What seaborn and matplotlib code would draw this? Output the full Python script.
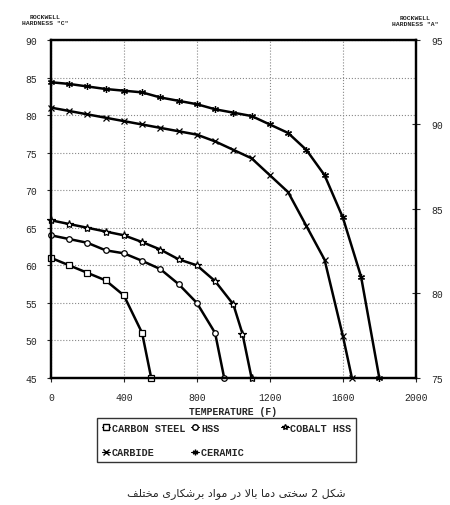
import seaborn as sns
import matplotlib.pyplot as plt
from matplotlib.lines import Line2D

# values
temp_carbon = [0, 100, 200, 300, 400, 500, 550]
hrc_carbon = [61, 60, 59, 58, 56, 51, 45]

temp_hss = [0, 100, 200, 300, 400, 500, 600, 700, 800, 900, 950]
hrc_hss = [64, 63.5, 63, 62, 61.6, 60.6, 59.5, 57.5, 55, 51, 45]

temp_cobalt = [0, 100, 200, 300, 400, 500, 600, 700, 800, 900, 1000, 1050, 1100]
hrc_cobalt = [66, 65.5, 65, 64.5, 64, 63.1, 62.1, 60.8, 60, 57.9, 54.8, 50.9, 45]

temp_carbide = [0, 100, 200, 300, 400, 500, 600, 700, 800, 900, 1000, 1100,
                1200, 1300, 1400, 1500, 1600, 1650]
hra_carbide = [91.0, 90.8, 90.6, 90.4, 90.2, 90.0, 89.8, 89.6, 89.4, 89.0, 88.5,
               88.0, 87.0, 86.0, 84.0, 82.0, 77.5, 75]

temp_ceramic = [0, 100, 200, 300, 400, 500, 600, 700, 800, 900, 1000, 1100,
                1200, 1300, 1400, 1500, 1600, 1700, 1800]
hra_ceramic = [92.5, 92.4, 92.25, 92.1, 92.0, 91.9, 91.6, 91.4, 91.2, 90.9, 90.7,
               90.5, 90.0, 89.5, 88.5, 87.0, 84.5, 81.0, 75]

x_ticks = [0, 400, 800, 1200, 1600, 2000]
c_ticks = [45, 50, 55, 60, 65, 70, 75, 80, 85, 90]
a_ticks = [75, 80, 85, 90, 95]

caption = "شکل 2 سختی دما بالا در مواد برشکاری مختلف"

# matplotlib has no arabic shaping, so pick presentation forms by hand
FORMS = {
    'ا': ('\uFE8D', '\uFE8E', None, None),
    'ب': ('\uFE8F', '\uFE90', '\uFE91', '\uFE92'),
    'ت': ('\uFE95', '\uFE96', '\uFE97', '\uFE98'),
    'خ': ('\uFEA5', '\uFEA6', '\uFEA7', '\uFEA8'),
    'د': ('\uFEA9', '\uFEAA', None, None),
    'ر': ('\uFEAD', '\uFEAE', None, None),
    'س': ('\uFEB1', '\uFEB2', '\uFEB3', '\uFEB4'),
    'ش': ('\uFEB5', '\uFEB6', '\uFEB7', '\uFEB8'),
    'ف': ('\uFED1', '\uFED2', '\uFED3', '\uFED4'),
    'ل': ('\uFEDD', '\uFEDE', '\uFEDF', '\uFEE0'),
    'م': ('\uFEE1', '\uFEE2', '\uFEE3', '\uFEE4'),
    'و': ('\uFEED', '\uFEEE', None, None),
    'ک': ('\uFB8E', '\uFB8F', '\uFB90', '\uFB91'),
    'ی': ('\uFBFC', '\uFBFD', '\uFBFE', '\uFBFF'),
    '\uFEFB': ('\uFEFB', '\uFEFC', None, None),
}


def shape(word):
    word = word.replace('لا', '\uFEFB')
    out = []
    for i, ch in enumerate(word):
        if ch not in FORMS:
            out.append(ch)
            continue
        prev = i > 0 and word[i - 1] in FORMS and FORMS[word[i - 1]][2] is not None
        nxt = (i < len(word) - 1 and word[i + 1] in FORMS
               and FORMS[ch][2] is not None)
        iso, fin, ini, med = FORMS[ch]
        if prev and nxt:
            out.append(med)
        elif prev:
            out.append(fin)
        elif nxt:
            out.append(ini)
        else:
            out.append(iso)
    if any(c in FORMS for c in word):
        out = out[::-1]
    return ''.join(out)


caption_visual = ' '.join(shape(w) for w in reversed(caption.split(' ')))

sns.set_style('white')
plt.rcParams['font.family'] = ['Liberation Mono', 'DejaVu Sans']

fig = plt.figure(figsize=(4.5, 5.06), dpi=100)
ax = fig.add_axes([0.113, 0.251, 0.811, 0.668])
ax2 = ax.twinx()

style = dict(color='black', linewidth=1.8, markerfacecolor='white',
             markeredgecolor='black', markeredgewidth=0.9, clip_on=False)
sns.lineplot(x=temp_carbon, y=hrc_carbon, ax=ax, marker='s', markersize=4.5, **style)
sns.lineplot(x=temp_hss, y=hrc_hss, ax=ax, marker='o', markersize=4, **style)
sns.lineplot(x=temp_cobalt, y=hrc_cobalt, ax=ax, marker='*', markersize=6, **style)
sns.lineplot(x=temp_carbide, y=hra_carbide, ax=ax2, marker='x', markersize=4.5, **style)
sns.lineplot(x=temp_ceramic, y=hra_ceramic, ax=ax2, marker=(6, 2, 0), markersize=5, **style)

ax.set_xlim(0, 2000)
ax.set_ylim(45, 90)
ax2.set_ylim(75, 95)
ax.set_xticks(x_ticks)
ax.set_yticks(c_ticks)
ax2.set_yticks(a_ticks)
ax.grid(True, color='#888888', linestyle=':', linewidth=0.8)
ax2.grid(False)

for a in (ax, ax2):
    for s in a.spines.values():
        s.set_linewidth(1.6)
        s.set_color('black')
ax.tick_params(axis='both', labelsize=7, direction='out', length=3, width=0.8,
               pad=7, left=True, bottom=True)
ax2.tick_params(axis='y', labelsize=7, direction='inout', length=6, width=0.8,
                pad=8, right=True)

ax.set_xlabel('TEMPERATURE (F)', fontsize=7, fontweight='bold', labelpad=3)
ax.set_ylabel('')
ax2.set_ylabel('')

fig.text(0.10, 0.959, 'ROCKWELL\nHARDNESS "C"', fontsize=4.6, fontweight='bold',
         ha='center', va='center', linespacing=1.2)
fig.text(0.922, 0.957, 'ROCKWELL\nHARDNESS "A"', fontsize=4.6, fontweight='bold',
         ha='center', va='center', linespacing=1.2)

mk = dict(color='black', linewidth=0.8, markerfacecolor='white',
          markeredgecolor='black', markersize=4)
handles = [
    Line2D([], [], marker='s', **mk),
    Line2D([], [], marker='x', **mk),
    Line2D([], [], marker='o', **mk),
    Line2D([], [], marker=(6, 2, 0), **mk),
    Line2D([], [], marker='*', **mk),
]
labels = ['CARBON STEEL', 'CARBIDE', 'HSS', 'CERAMIC     ', 'COBALT HSS']
leg = fig.legend(handles, labels, ncol=3, loc='upper left',
                 bbox_to_anchor=(0.2156, 0.172), borderaxespad=0, frameon=True,
                 fancybox=False, edgecolor='black', handlelength=0.8,
                 handletextpad=0.15, columnspacing=0.6, labelspacing=1.4,
                 borderpad=0.5, prop={'weight': 'bold', 'size': 7.3})
leg.get_frame().set_linewidth(1.0)

fig.text(0.525, 0.024, caption_visual, fontsize=8, ha='center', va='center',
         family=['DejaVu Sans'])

fig.savefig('out.png', dpi=100)
